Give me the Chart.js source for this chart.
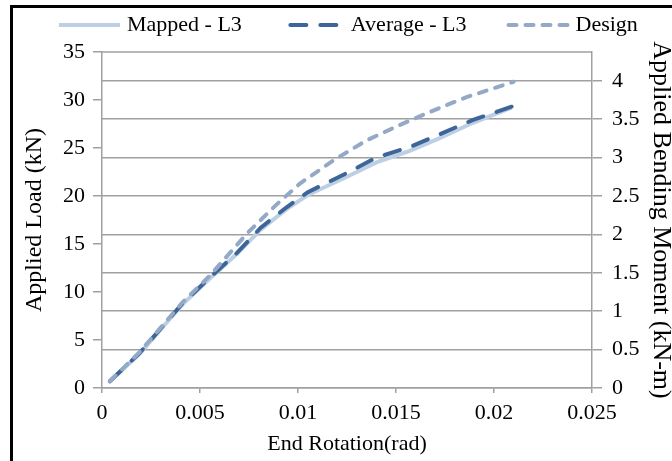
<!DOCTYPE html>
<html>
<head>
<meta charset="utf-8">
<script src="https://cdn.jsdelivr.net/npm/chart.js@4/dist/chart.umd.min.js"></script>
<style>
  html, body { margin: 0; padding: 0; background: #fff; overflow: hidden; }
  #wrap { position: absolute; left: 0; top: 0; width: 685px; height: 461px; }
  #frame { position: absolute; left: 10px; top: 5px; right: 0; bottom: 0;
           border-left: 3px solid #000; border-top: 3px solid #000; pointer-events: none; }
</style>
</head>
<body>
<div id="wrap"><canvas id="c"></canvas></div>
<div id="frame"></div>
<script>
// End rotation (rad) of the measured curves
const rotationTest = [0.0004, 0.0019, 0.0041, 0.0055, 0.0069, 0.0081, 0.0094, 0.0105, 0.0125, 0.0140, 0.0157, 0.0172, 0.0189, 0.0209];
// Applied load (kN), mapped and averaged L3 results
const mappedLoad  = [0.7, 3.5, 8.7, 11.4, 14.0, 16.5, 18.6, 20.1, 22.0, 23.5, 24.7, 26.0, 27.6, 29.2];
const averageLoad = [0.7, 3.6, 8.8, 11.5, 14.1, 16.7, 18.8, 20.4, 22.4, 24.0, 25.1, 26.4, 27.9, 29.3];
// Design curve
const rotationDesign = [0.0004, 0.0019, 0.0041, 0.0055, 0.0074, 0.0089, 0.0101, 0.0118, 0.0135, 0.0152, 0.0169, 0.0186, 0.0210];
const designLoad     = [0.7, 3.7, 8.9, 11.7, 16.1, 19.1, 21.3, 23.7, 25.8, 27.4, 28.9, 30.3, 31.9];

// Axis ticks
const rotationTicks = [0, 0.005, 0.01, 0.015, 0.02, 0.025];
const loadTicks = [0, 5, 10, 15, 20, 25, 30, 35];
const momentTicks = [0, 0.5, 1, 1.5, 2, 2.5, 3, 3.5, 4];
const momentPerLoad = 0.125; // kN-m per kN

const serif = "'Liberation Serif', 'Times New Roman', serif";
const gridGray = '#a0a0a0';

const pts = (xs, ys) => xs.map((x, i) => ({ x: x, y: ys[i] }));

// Legend drawn as one row across the top; dashed samples show whole dashes only
const topLegend = {
  id: 'topLegend',
  afterDraw(chart) {
    const ctx = chart.ctx;
    ctx.save();
    ctx.font = '22px ' + serif;
    ctx.textBaseline = 'middle';
    const box = 65;
    let x = 57;
    const y = 25;
    chart.data.datasets.forEach(ds => {
      const dash = ds.borderDash || [];
      let len = box - 4;
      if (dash.length) {
        const n = Math.floor((len + dash[1]) / (dash[0] + dash[1]));
        len = n * (dash[0] + dash[1]) - dash[1];
      }
      const x0 = x + (box - len) / 2;
      ctx.beginPath();
      ctx.strokeStyle = ds.borderColor;
      ctx.lineWidth = ds.borderWidth;
      ctx.lineCap = ds.borderCapStyle || 'butt';
      ctx.setLineDash(dash);
      ctx.moveTo(x0, y);
      ctx.lineTo(x0 + len, y);
      ctx.stroke();
      ctx.setLineDash([]);
      x += box + 5;
      ctx.fillStyle = '#000';
      ctx.fillText(ds.label, x, y);
      x += ctx.measureText(ds.label).width + 39;
    });
    ctx.restore();
  }
};

// Top edge of the plot area
const plotTopEdge = {
  id: 'plotTopEdge',
  beforeDatasetsDraw(chart) {
    const { ctx, chartArea: a } = chart;
    ctx.save();
    ctx.strokeStyle = gridGray;
    ctx.lineWidth = 1.5;
    ctx.beginPath();
    ctx.moveTo(a.left, a.top);
    ctx.lineTo(a.right, a.top);
    ctx.stroke();
    ctx.restore();
  }
};

new Chart(document.getElementById('c'), {
  type: 'line',
  data: {
    datasets: [
      { label: 'Mapped - L3', data: pts(rotationTest, mappedLoad),
        borderColor: '#bccfe4', borderWidth: 4, pointRadius: 0, order: 2 },
      { label: 'Average - L3', data: pts(rotationTest, averageLoad),
        borderColor: '#3e6598', borderWidth: 4, borderDash: [16, 14], borderCapStyle: 'round',
        pointRadius: 0, order: 1 },
      { label: 'Design', data: pts(rotationDesign, designLoad),
        borderColor: '#93a9c6', borderWidth: 4, borderDash: [8, 9], borderCapStyle: 'round',
        pointRadius: 0, order: 0 }
    ]
  },
  options: {
    responsive: true,
    maintainAspectRatio: false,
    animation: false,
    layout: { padding: { top: 52, left: 0, right: 0, bottom: 0 } },
    plugins: { legend: { display: false }, tooltip: { enabled: false } },
    scales: {
      x: {
        type: 'linear', position: 'bottom', min: 0, max: 0.025,
        afterBuildTicks: s => { s.ticks = rotationTicks.map(v => ({ value: v })); },
        afterFit: s => { s.height = 73; },
        ticks: { color: '#000', font: { family: serif, size: 22 }, padding: 7,
                 callback: v => String(+v.toFixed(3)) },
        grid: { drawOnChartArea: false, tickLength: 5, color: gridGray, lineWidth: 1.5 },
        border: { color: gridGray, width: 1.5 },
        title: { display: true, text: 'End Rotation(rad)', color: '#000',
                 font: { family: serif, size: 22 }, padding: { top: 0, bottom: 4 } }
      },
      y: {
        type: 'linear', position: 'left', min: 0, max: 35,
        afterBuildTicks: s => { s.ticks = loadTicks.map(v => ({ value: v })); },
        afterFit: s => { s.width = 102; },
        ticks: { color: '#000', font: { family: serif, size: 22 }, padding: 8 },
        grid: { drawOnChartArea: false, tickLength: 9, color: gridGray, lineWidth: 1.5 },
        border: { color: gridGray, width: 1.5 },
        title: { display: true, text: 'Applied Load (kN)', color: '#000',
                 font: { family: serif, size: 24 }, padding: { top: 20, bottom: 0 } }
      },
      y2: {
        type: 'linear', position: 'right', min: 0, max: 35 * momentPerLoad,
        afterBuildTicks: s => { s.ticks = momentTicks.map(v => ({ value: v })); },
        afterFit: s => { s.width = 93; },
        ticks: { color: '#000', font: { family: serif, size: 22 }, padding: 10,
                 callback: v => String(v) },
        grid: { drawOnChartArea: true, tickLength: 10, color: gridGray, lineWidth: 1.5 },
        border: { color: gridGray, width: 1.5 },
        title: { display: true, text: 'Applied Bending Moment (kN-m)', color: '#000',
                 font: { family: serif, size: 26 }, padding: { top: 9, bottom: 0 } }
      }
    }
  },
  plugins: [topLegend, plotTopEdge]
});
</script>
</body>
</html>
